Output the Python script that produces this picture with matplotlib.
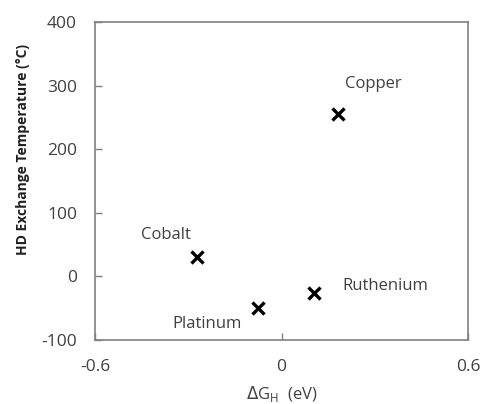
import matplotlib.pyplot as plt

# data
metals = ["Copper", "Cobalt", "Platinum", "Ruthenium"]
dgh = [0.183, -0.273, -0.074, 0.103]
hd_temp = [256, 30, -49, -26]

# label offsets in points (dx, dy)
label_offsets = [(25, 21), (-22, 16), (-37, -12), (52, 5)]

plt.rcParams["font.family"] = ["Open Sans", "DejaVu Sans"]
plt.rcParams["axes.unicode_minus"] = False

fig = plt.figure(figsize=(4.82, 4.04), dpi=100)
ax = fig.add_axes([95 / 482, 1 - 340 / 404, (468 - 95) / 482, (340 - 22) / 404])

ax.scatter(dgh, hd_temp, marker="x", s=75, color="black", linewidths=2.4, zorder=3)

for name, x, y, off in zip(metals, dgh, hd_temp, label_offsets):
    ax.annotate(name, (x, y), xytext=off, textcoords="offset points",
                ha="center", va="center", fontsize=12, color="#404040")

ax.set_xlim(-0.6, 0.6)
ax.set_ylim(-100, 400)
ax.set_xticks([-0.6, 0, 0.6])
ax.set_xticklabels(["-0.6", "0", "0.6"])
ax.set_yticks([-100, 0, 100, 200, 300, 400])

ax.tick_params(direction="in", length=5, width=1, color="#808080",
               labelsize=12.5, labelcolor="#404040")
ax.tick_params(axis="x", pad=14)
ax.tick_params(axis="y", pad=13)

for s in ax.spines.values():
    s.set_color("#808080")
    s.set_linewidth(1.2)

ax.set_xlabel(r"$\Delta$G$_{\mathregular{H}}$  (eV)", fontsize=12, color="#404040", labelpad=6)
ax.set_ylabel("HD Exchange Temperature (°C)", fontsize=10, fontweight="bold",
              color="#202020")
ax.yaxis.set_label_coords(-0.175, 0.60)

fig.savefig("out.png", dpi=100)
